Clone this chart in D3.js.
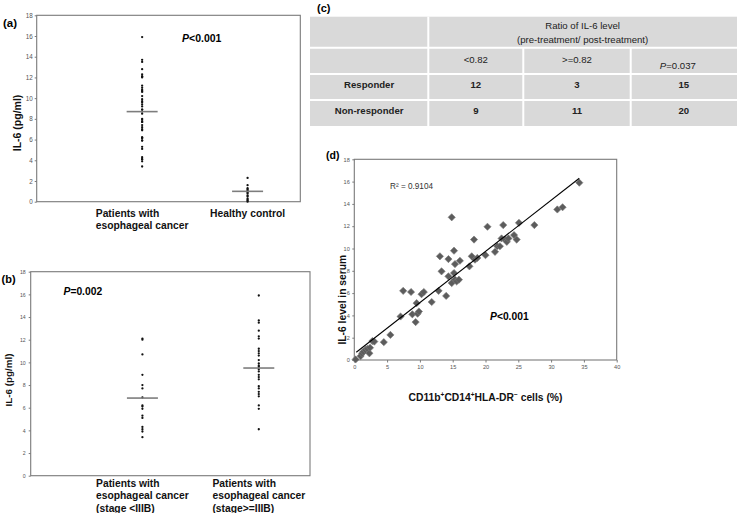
<!DOCTYPE html>
<html><head><meta charset="utf-8">
<script src="https://cdn.jsdelivr.net/npm/d3@7"></script>
<style>body{margin:0;background:#fff} svg{display:block} text{font-family:"Liberation Sans",Arial,sans-serif}</style>
</head><body><svg id="c" width="737" height="513"></svg>
<script>
// ---------- data ----------
const yTicks = [0,2,4,6,8,10,12,14,16,18];
const dTicksX = [0,5,10,15,20,25,30,35,40];
const catsA = [["Patients with","esophageal cancer"],["Healthy control"]];
const catsB = [["Patients with","esophageal cancer","(stage <IIIB)"],["Patients with","esophageal cancer","(stage>=IIIB)"]];
const stageLow = [12.1, 12.0, 10.7, 8.9, 8.0, 7.7, 6.9, 6.2, 6.1, 5.9, 5.3, 5.1, 4.3, 4.1, 3.9, 3.4];
const stageHigh = [15.9, 13.7, 13.5, 12.8, 12.3, 12.1, 11.2, 11.0, 10.8, 10.6, 10.2, 9.9, 9.7, 9.6, 9.4, 9.2, 8.9, 8.7, 8.5, 7.9, 7.7, 7.4, 7.2, 7.0, 6.2, 5.9, 4.1];
const cancerAll = stageHigh.concat(stageLow);
const healthy = [2.3, 1.6, 1.3, 1.2, 1.1, 1.0, 0.9, 0.8, 0.6, 0.5, 0.3, 0.2, 0.1, 0.0];
const meanA = [8.7, 1.0];
const meanB = [6.85, 9.5];
const pA = "<0.001", pB = "=0.002", pD = "<0.001";
const tableHeader = ["Ratio of IL-6 level","(pre-treatment/ post-treatment)"];
const tableCols = ["<0.82", ">=0.82"];
const tableP = "=0.037";
const tableRows = ["Responder","Non-responder"];
const tableLow = [12, 9];
const tableHigh = [3, 11];
const tableTotal = [15, 20];
const mdscX = [0.2,0.97,1.2,1.4,1.7,2.0,2.3,2.4,2.75,3.05,4.5,5.5,7.05,7.45,8.65,8.85,9.35,9.5,9.65,9.85,10.25,10.6,11.8,12.85,13.05,13.3,14.0,14.35,14.35,14.85,14.85,15.2,15.2,15.35,15.35,15.6,15.95,16.1,17.55,17.9,18.25,18.4,18.75,20.0,20.3,21.45,21.8,22.2,22.45,22.7,23.0,23.25,23.5,24.35,24.75,25.1,27.45,30.95,31.75,34.3];
const il6Y = [0.05,0.35,0.6,0.75,0.9,1.0,0.6,1.1,1.7,1.65,1.6,2.25,3.9,6.2,6.1,4.1,3.4,5.1,4.15,4.35,5.9,6.1,5.2,6.2,9.3,7.95,5.75,9.05,7.5,12.8,6.9,9.8,7.8,8.6,7.2,7.05,7.2,8.9,8.4,9.3,10.8,9.0,9.15,9.4,11.95,9.7,10.2,10.2,10.9,12.1,10.8,10.6,10.9,11.2,10.8,12.3,12.1,13.5,13.7,15.9];
const trendX = [0.3, 34.3];
const trendY = [0.7, 16.3];
const r2Label = "R\u00B2 = 0.9104";

// ---------- drawing ----------
const FONT = "'Liberation Sans', Arial, sans-serif";
const svg = d3.select("#c");

function pText(g, x, y, rest, fs, bold, anchor) {
  const t = g.append("text").attr("x", x).attr("y", y).attr("font-size", fs)
    .attr("font-weight", bold ? "bold" : "normal").attr("fill", "#000")
    .attr("text-anchor", anchor || "start");
  t.append("tspan").attr("font-style", "italic").text("P");
  t.append("tspan").text(rest);
  return t;
}

function measure(str, fs, weight) {
  const t = svg.append("text").attr("font-size", fs).attr("font-weight", weight).text(str);
  const w = t.node().getComputedTextLength();
  t.remove();
  return w;
}

function dotPanel(cfg) {
  const g = svg.append("g");
  const x = d3.scaleLinear().domain(cfg.xDomain).range([cfg.l, cfg.r]);
  const y = d3.scaleLinear().domain([0, 18]).range([cfg.b, cfg.t]);
  g.append("rect").attr("x", cfg.l).attr("y", cfg.t).attr("width", cfg.r - cfg.l)
    .attr("height", cfg.b - cfg.t).attr("fill", "none").attr("stroke", "#7a7a7a").attr("stroke-width", 1.1);
  const ax = g.append("g").attr("transform", `translate(${cfg.l},0)`)
    .call(d3.axisLeft(y).tickValues(yTicks).tickSize(2).tickPadding(cfg.pad));
  ax.attr("font-size", cfg.tickFs).attr("font-family", FONT);
  ax.select(".domain").remove();
  ax.selectAll("line").attr("stroke", "#7a7a7a");
  ax.selectAll("text").attr("fill", "#555");
  cfg.groups.forEach((vals, i) => {
    g.selectAll(null).data(vals).enter().append("circle")
      .attr("cx", x(i + 1)).attr("cy", d => y(d)).attr("r", 1.15).attr("fill", "#111");
  });
  cfg.means.forEach((m, i) => {
    g.append("line").attr("x1", x(i + 1) - cfg.half).attr("x2", x(i + 1) + cfg.half)
      .attr("y1", y(m)).attr("y2", y(m)).attr("stroke", "#7d7d7d").attr("stroke-width", 1.6);
  });
  cfg.cats.forEach((lines, i) => {
    const w = d3.max(lines, s => measure(s, cfg.labFs, "bold"));
    const x0 = x(i + 1) - w / 2;
    lines.forEach((s, j) => {
      g.append("text").attr("x", x0).attr("y", cfg.labY[j]).attr("font-size", cfg.labFs)
        .attr("font-weight", "bold").attr("fill", "#111").text(s);
    });
  });
  g.append("text").attr("transform", `translate(${cfg.titleX},${cfg.titleY}) rotate(-90)`)
    .attr("text-anchor", "middle").attr("font-size", cfg.titleFs).attr("font-weight", "bold")
    .attr("fill", "#111").text("IL-6 (pg/ml)");
  return g;
}

// Panel (a)
const gA = dotPanel({l: 36.7, t: 15.3, r: 300.3, b: 201.7, xDomain: [0, 2.5], pad: 2, tickFs: 6.3,
  groups: [cancerAll, healthy], means: meanA, half: 15.5, cats: catsA, labFs: 10.3, labY: [216.5, 229],
  titleX: 20.5, titleY: 123, titleFs: 10.5});
svg.append("text").attr("x", 3).attr("y", 26.5).attr("font-size", 11.5).attr("font-weight", "bold").text("(a)");
pText(svg, 182, 41.5, pA, 10.5, true);

// Panel (b)
const gB = dotPanel({l: 30.7, t: 271.7, r: 310, b: 475.7, xDomain: [0.04, 2.44], pad: 3, tickFs: 5.2,
  groups: [stageLow, stageHigh], means: meanB, half: 15.5, cats: catsB, labFs: 10.3, labY: [486.5, 499, 511.5],
  titleX: 12, titleY: 380, titleFs: 9.8});
svg.append("text").attr("x", 1.5).attr("y", 282.5).attr("font-size", 11).attr("font-weight", "bold").text("(b)");
pText(svg, 63.5, 294.5, pB, 10.3, true);

// Panel (c) table
(function () {
  const g = svg.append("g");
  const L = 310, R = 737, T = 16.7, B = 126;
  const colEdges = [L, 428.3, 523.3, 630.7, R];
  const rowEdges = [T, 47.7, 74, 100, B];
  g.append("rect").attr("x", L).attr("y", T).attr("width", R - L).attr("height", B - T).attr("fill", "#d9d9d9");
  rowEdges.slice(1, -1).forEach(yv => g.append("line").attr("x1", L).attr("x2", R).attr("y1", yv).attr("y2", yv)
    .attr("stroke", "#fff").attr("stroke-width", 2));
  colEdges.slice(1, -1).forEach((xv, i) => g.append("line").attr("x1", xv).attr("x2", xv)
    .attr("y1", i === 0 ? T : rowEdges[1]).attr("y2", B).attr("stroke", "#fff").attr("stroke-width", 2));
  const cx = i => (colEdges[i] + colEdges[i + 1]) / 2;
  const hx = (colEdges[1] + R) / 2;
  const fs = 9.6;
  tableHeader.forEach((s, j) => g.append("text").attr("x", hx).attr("y", [29, 42.7][j]).attr("text-anchor", "middle")
    .attr("font-size", fs).attr("fill", "#222").text(s));
  tableCols.forEach((s, i) => g.append("text").attr("x", cx(i + 1)).attr("y", 62.5).attr("text-anchor", "middle")
    .attr("font-size", fs).attr("fill", "#222").text(s));
  pText(g, cx(3) - 6, 68.8, tableP, fs, false, "middle").attr("fill", "#222");
  const rowY = [87.8, 113.5];
  tableRows.forEach((s, i) => {
    const vals = [s, tableLow[i], tableHigh[i], tableTotal[i]];
    vals.forEach((v, k) => g.append("text").attr("x", cx(k)).attr("y", rowY[i]).attr("text-anchor", "middle")
      .attr("font-size", fs).attr("font-weight", "bold").attr("fill", "#222").text(v));
  });
  svg.append("text").attr("x", 317).attr("y", 11.5).attr("font-size", 11).attr("font-weight", "bold").text("(c)");
})();

// Panel (d) scatter
(function () {
  const l = 354.3, t = 159.3, r = 616.7, b = 360;
  const g = svg.append("g");
  const x = d3.scaleLinear().domain([0, 40]).range([l, r]);
  const y = d3.scaleLinear().domain([0, 18]).range([b, t]);
  g.append("rect").attr("x", l).attr("y", t).attr("width", r - l).attr("height", b - t)
    .attr("fill", "none").attr("stroke", "#7a7a7a").attr("stroke-width", 1.1);
  const ay = g.append("g").attr("transform", `translate(${l},0)`)
    .call(d3.axisLeft(y).tickValues(yTicks).tickSize(2).tickPadding(2.5));
  ay.attr("font-size", 5.6).attr("font-family", FONT);
  ay.select(".domain").remove();
  ay.selectAll("line").attr("stroke", "#7a7a7a");
  ay.selectAll("text").attr("fill", "#555");
  const ax = g.append("g").attr("transform", `translate(0,${b})`)
    .call(d3.axisBottom(x).tickValues(dTicksX).tickSize(2.5).tickPadding(3));
  ax.attr("font-size", 5.6).attr("font-family", FONT);
  ax.select(".domain").remove();
  ax.selectAll("line").attr("stroke", "#7a7a7a");
  ax.selectAll("text").attr("fill", "#555");
  const pts = mdscX.map((v, i) => [v, il6Y[i]]);
  const sym = d3.symbol().type(d3.symbolSquare).size(26);
  g.selectAll(null).data(pts).enter().append("path").attr("d", sym)
    .attr("transform", d => `translate(${x(d[0])},${y(d[1])}) rotate(45)`)
    .attr("fill", "#5c5c5c").attr("stroke", "#7a7a7a").attr("stroke-width", 0.6);
  g.append("line").attr("x1", x(trendX[0])).attr("y1", y(trendY[0])).attr("x2", x(trendX[1])).attr("y2", y(trendY[1]))
    .attr("stroke", "#000").attr("stroke-width", 1.1);
  g.append("text").attr("x", 390).attr("y", 189).attr("font-size", 8.2).attr("fill", "#333").text(r2Label);
  pText(g, 490, 320, pD, 10.3, true);
  g.append("text").attr("transform", `translate(346,${(t + b) / 2 + 40}) rotate(-90)`).attr("text-anchor", "middle")
    .attr("font-size", 10.3).attr("font-weight", "bold").attr("fill", "#111").text("IL-6 level in serum");
  const xt = g.append("text").attr("x", (l + r) / 2).attr("y", 401).attr("text-anchor", "middle")
    .attr("font-size", 10.3).attr("font-weight", "bold").attr("fill", "#111");
  xt.append("tspan").text("CD11b");
  xt.append("tspan").attr("font-size", 6.5).attr("dy", -4).text("+");
  xt.append("tspan").attr("dy", 4).text("CD14");
  xt.append("tspan").attr("font-size", 6.5).attr("dy", -4).text("+");
  xt.append("tspan").attr("dy", 4).text("HLA-DR");
  xt.append("tspan").attr("font-size", 6.5).attr("dy", -4).text("\u2212");
  xt.append("tspan").attr("dy", 4).text(" cells (%)");
  svg.append("text").attr("x", 326).attr("y", 158.5).attr("font-size", 10.5).attr("font-weight", "bold").text("(d)");
})();
</script></body></html>
